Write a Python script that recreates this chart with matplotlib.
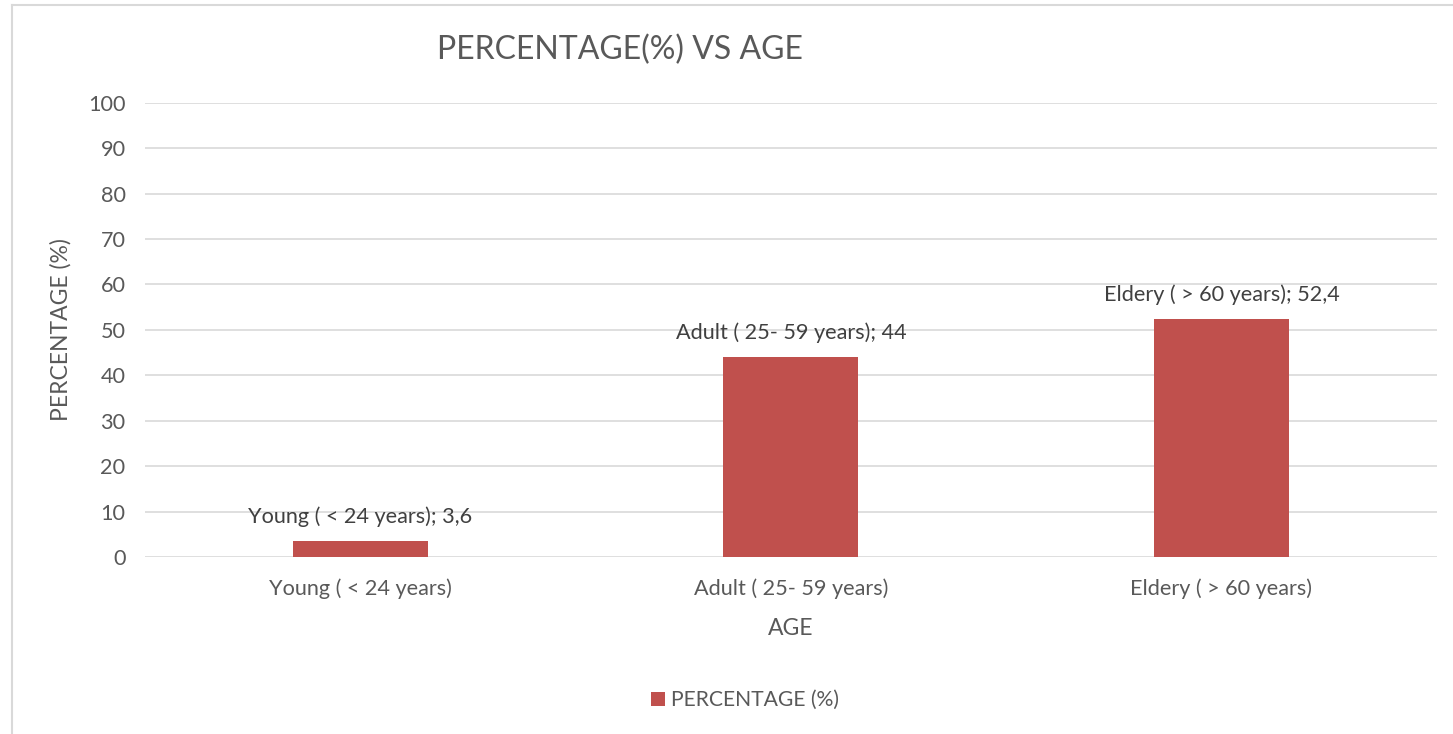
import matplotlib.pyplot as plt
from matplotlib.lines import Line2D

categories = ['Young ( < 24 years)', 'Adult ( 25- 59 years)', 'Eldery ( > 60 years)']
percentages = [3.6, 44, 52.4]
value_labels = ['3,6', '44', '52,4']
yticks = [0, 10, 20, 30, 40, 50, 60, 70, 80, 90, 100]

bar_color = '#c0504d'
text_color = '#595959'
grid_color = '#d9d9d9'

plt.rcParams['font.family'] = ['Lato', 'DejaVu Sans']

fig = plt.figure(figsize=(14.53, 7.34), dpi=100)
ax = fig.add_axes([0.0998, 0.241, 0.889, 0.619])

x = list(range(len(categories)))
bars = ax.bar(x, percentages, width=0.313, color=bar_color, zorder=3,
              label='PERCENTAGE (%)')

# etiquetas de datos: categoría; valor
for xi, cat, val, lab in zip(x, categories, percentages, value_labels):
    ax.annotate(f'{cat}; {lab}', (xi, val), xytext=(0, 10), textcoords='offset points',
                ha='center', va='bottom', fontsize=15.6, color='#404040')

ax.set_xlim(-0.5, 2.5)
ax.set_ylim(0, 100)
ax.set_yticks(yticks)
ax.set_xticks(x)
ax.set_xticklabels(categories)
ax.tick_params(length=0, labelsize=15.6, colors=text_color)
ax.tick_params(axis='x', pad=15)
ax.tick_params(axis='y', pad=14)
ax.grid(axis='y', color=grid_color, linewidth=1.2, zorder=0)
for s in ax.spines.values():
    s.set_visible(False)

ax.set_xlabel('AGE', fontsize=16.5, color=text_color, labelpad=14)
ax.set_ylabel('PERCENTAGE (%)', fontsize=16.5, color=text_color, labelpad=12)

fig.text(0.4267, 0.932, 'PERCENTAGE(%) VS AGE', ha='center', va='center',
         fontsize=23, color=text_color)

fig.legend(handles=[bars], loc='center', bbox_to_anchor=(0.513, 0.046), frameon=False,
           fontsize=15.2, labelcolor=text_color, handlelength=0.65, handleheight=0.65,
           handletextpad=0.3)

# borde del gráfico
fig.add_artist(Line2D([12 / 1453, 1452 / 1453], [1 - 5 / 734, 1 - 5 / 734],
                      color=grid_color, linewidth=1.5, transform=fig.transFigure))
fig.add_artist(Line2D([12 / 1453, 12 / 1453], [0, 1 - 5 / 734],
                      color=grid_color, linewidth=1.5, transform=fig.transFigure))

plt.savefig('out.png', dpi=100)
